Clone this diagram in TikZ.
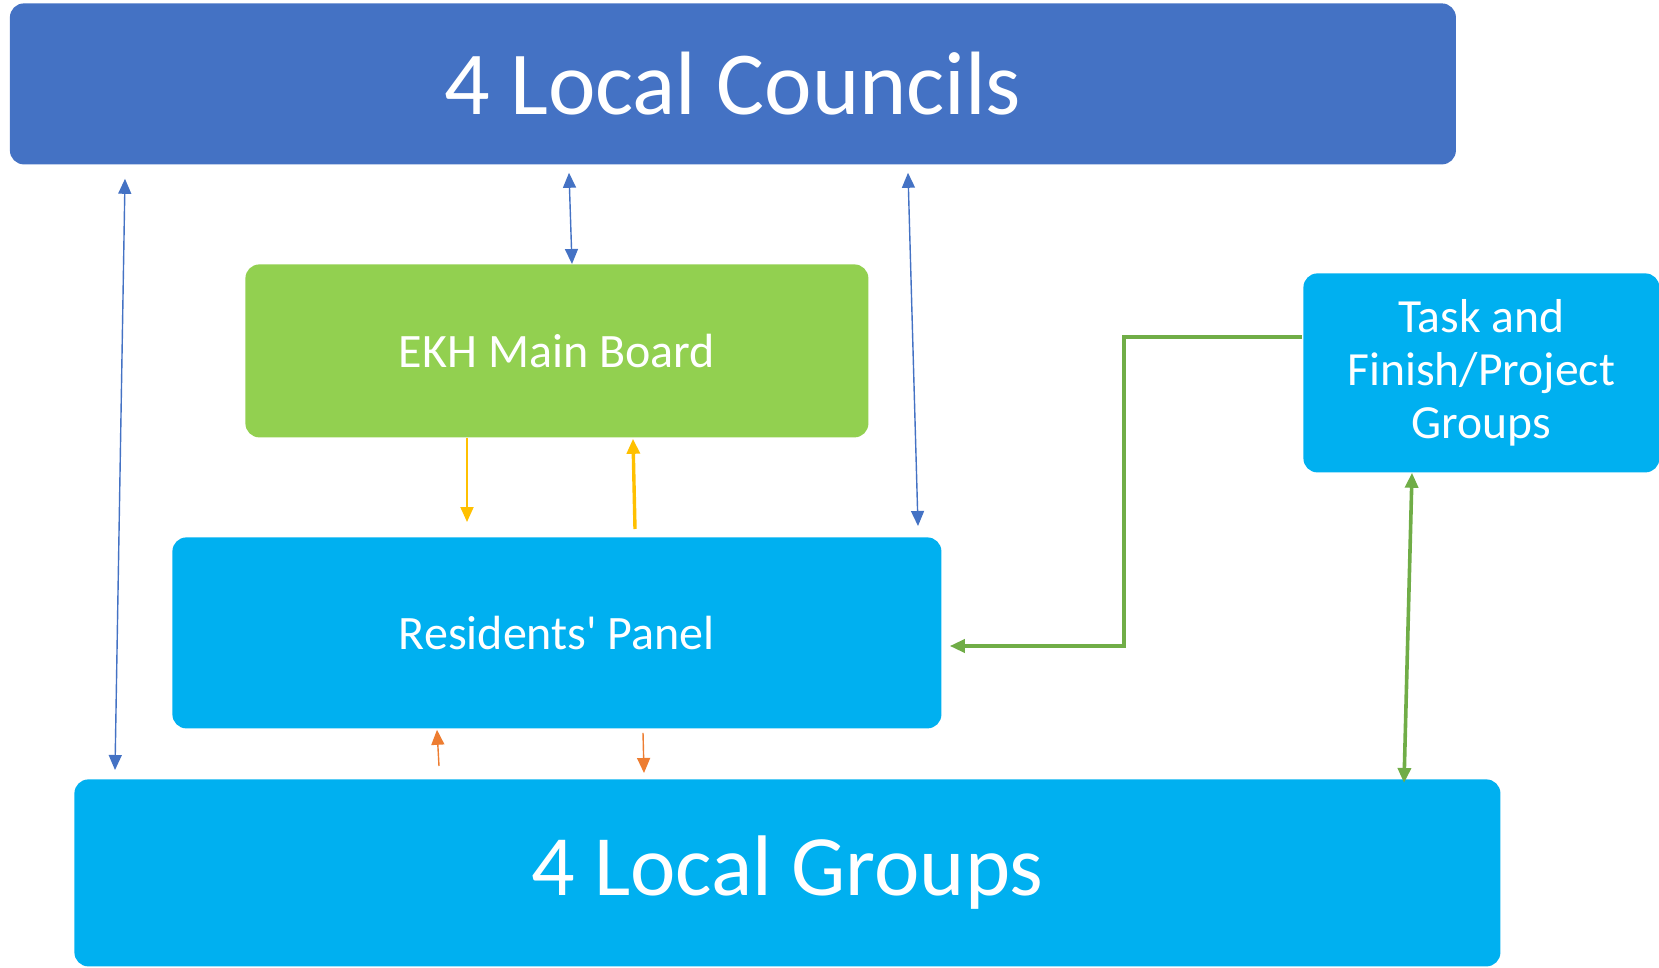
\documentclass[tikz,border=0pt]{standalone}
\usepackage{fontspec}
\setmainfont{Carlito}[Ligatures=TeXOff]
\usetikzlibrary{arrows.meta}

\definecolor{councilblue}{HTML}{4472C4}
\definecolor{boardgreen}{HTML}{92D050}
\definecolor{panelcyan}{HTML}{00B0F0}
\definecolor{linkyellow}{HTML}{FFC000}
\definecolor{linkorange}{HTML}{ED7D31}
\definecolor{linkgreen}{HTML}{70AD47}

\tikzset{
  box/.style={anchor=north west, inner sep=0pt, rounded corners=7pt, text=white, align=center},
  >={Triangle[length=7.5pt,width=6.5pt]},
}

\begin{document}
\begin{tikzpicture}[x=0.5pt,y=-0.5pt]
		\useasboundingbox (0,0) rectangle (1659,968);
		% boxes
		\node[box, fill=councilblue, minimum width=723pt, minimum height=80.5pt, font=\fontsize{45}{54}\selectfont] (council) at (9.5,3) {4 Local Councils};
		\node[box, fill=boardgreen, minimum width=311.5pt, minimum height=86.5pt, font=\fontsize{24}{29}\selectfont] (board) at (245,264) {EKH Main Board};
		\node[box, fill=panelcyan, minimum width=178pt, minimum height=99.5pt, font=\fontsize{23.8}{26.5}\selectfont] (task) at (1303,273) {Task and\\Finish/Project\\Groups};
		\node[box, fill=panelcyan, minimum width=384.5pt, minimum height=95.5pt, font=\fontsize{24}{29}\selectfont] (panel) at (172,537) {Residents' Panel};
		\node[box, fill=panelcyan, minimum width=713pt, minimum height=93.5pt, font=\fontsize{43}{52}\selectfont] (groups) at (74,779) {4 Local Groups};

		% council links
		\draw[councilblue, line width=0.7pt, <->] ([shift={(115.5,14)}]council.south west) -- ([shift={(41,-9)}]groups.north west);
		\draw[councilblue, line width=0.7pt, <->] ([shift={(559.5,8)}]council.south west) -- ([shift={(327,0)}]board.north west);
		\draw[councilblue, line width=0.7pt, <->] ([shift={(898.5,8)}]council.south west) -- ([shift={(746,-11)}]panel.north west);

		% board <-> panel
		\draw[linkyellow, line width=1pt, ->] ([shift={(222,0)}]board.south west) -- ([shift={(295,-15)}]panel.north west);
		\draw[linkyellow, line width=1.7pt, ->] ([shift={(463,-8)}]panel.north west) -- ([shift={(388,1)}]board.south west);

		% panel <-> groups
		\draw[linkorange, line width=0.7pt, ->] ([shift={(365,-13)}]groups.north west) -- ([shift={(265,1)}]panel.south west);
		\draw[linkorange, line width=0.7pt, ->] ([shift={(471,4)}]panel.south west) -- ([shift={(570,-6)}]groups.north west);

		% task groups
		\coordinate (elbow) at (1124,646);
		\draw[linkgreen, line width=1.7pt, ->] ([shift={(-1,64)}]task.north west) -| (elbow) -- ([shift={(8,109)}]panel.north east);
		\draw[linkgreen, line width=1.8pt, <->] ([shift={(109,0)}]task.south west) -- ([shift={(1330,4)}]groups.north west);
	\end{tikzpicture}
\end{document}
